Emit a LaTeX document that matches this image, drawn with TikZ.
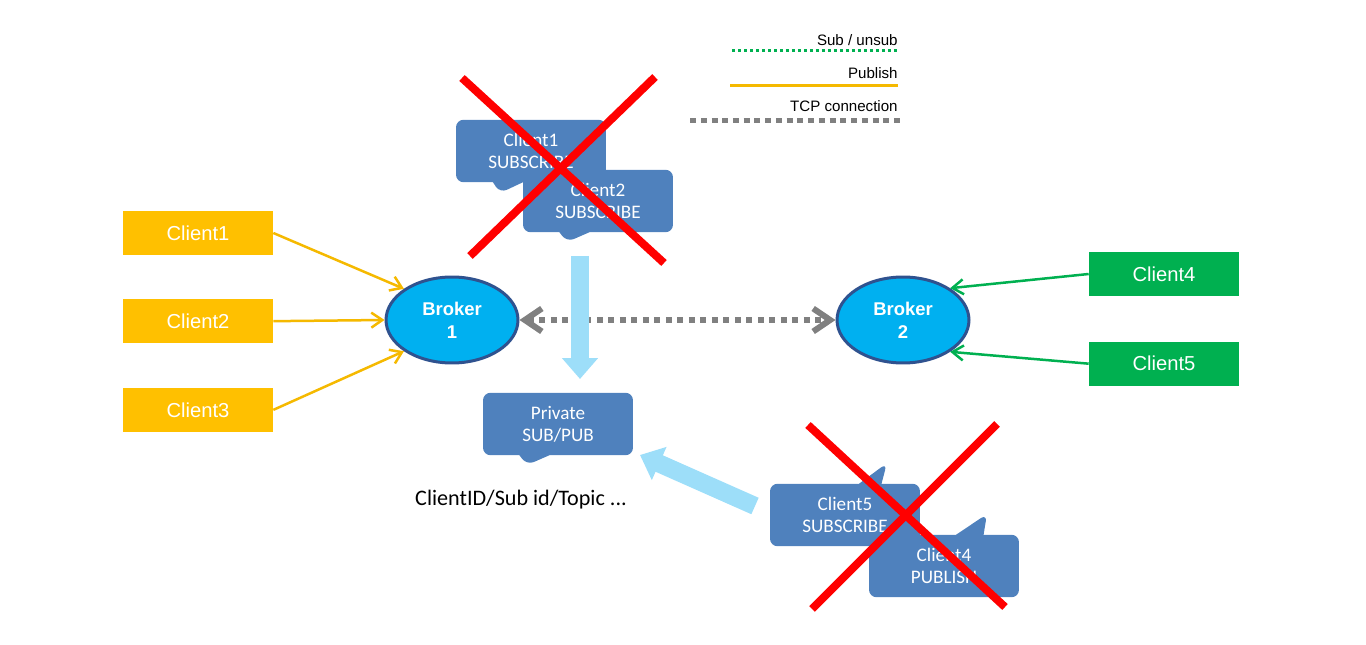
\documentclass[tikz,border=0pt]{standalone}
\usepackage{fontspec}
\setmainfont{Liberation Sans}
\newfontfamily\calibri{Carlito}
\usepackage{tikz}
\usetikzlibrary{shapes.geometric,shapes.callouts,positioning,arrows.meta}
\definecolor{pubyellow}{RGB}{255,192,0}
\definecolor{publine}{RGB}{245,185,0}
\definecolor{subgreen}{RGB}{0,176,80}
\definecolor{brokerblue}{RGB}{0,176,240}
\definecolor{brokeredge}{RGB}{47,82,143}
\definecolor{calloutblue}{RGB}{79,129,189}
\definecolor{tcpgray}{RGB}{128,128,128}
\definecolor{flowblue}{RGB}{157,222,249}

\begin{document}
\begin{tikzpicture}[x=0.02cm, y=-0.02cm,
  client/.style={rectangle, fill=#1, text=white, minimum width=3cm, minimum height=0.88cm, font=\fontsize{11.5}{13}\selectfont},
  broker/.style={ellipse, fill=brokerblue, draw=brokeredge, line width=0.06cm, text=white, minimum width=2.64cm, minimum height=1.72cm, align=center, font=\fontsize{10.5}{13}\selectfont\bfseries, inner sep=0pt},
  bubble/.style={rectangle callout, fill=calloutblue, text=white, rounded corners=0.15cm, minimum width=3cm, minimum height=1.25cm, align=center, callout pointer width=0.6cm, font=\calibri\fontsize{10.9}{12.5}\selectfont},
  legendtext/.style={anchor=east, inner sep=0pt, font=\fontsize{8.6}{10}\selectfont},
  pubarrow/.style={publine, line width=0.05cm, -{Straight Barb[length=0.22cm, width=0.3cm]}},
  subarrow/.style={subgreen, line width=0.05cm, -{Straight Barb[length=0.22cm, width=0.3cm]}},
  flow/.style={flowblue, line width=0.36cm, -{Triangle[length=0.42cm, width=0.7cm]}},
  cross/.style={red, line width=0.16cm}]
\useasboundingbox (0,0) rectangle (1366,645);

% Legend

\node [legendtext] (sublabel) at (898,40) {Sub / unsub};
\coordinate (subleft) at (732,51);
\coordinate (subright) at (898,51);
\draw[subgreen, line width=0.06cm, dash pattern=on 0.06cm off 0.06cm] (subleft) -- (subright);

\node [legendtext] (publabel) at (898,73) {Publish};
\coordinate (publeft) at (730,86);
\coordinate (pubright) at (898,86);
\draw[publine, line width=0.06cm] (publeft) -- (pubright);

\node [legendtext] (tcplabel) at (898,106) {TCP connection};
\coordinate (tcpleft) at (690,121);
\coordinate (tcpright) at (900,121);
\draw[tcpgray, line width=0.1cm, dash pattern=on 0.12cm off 0.095cm] (tcpleft) -- (tcpright);

% Clients and brokers

\node [client=pubyellow] (client1) at (198,233) {Client1};
\node [client=pubyellow, below=0.87cm of client1] (client2) {Client2};
\node [client=pubyellow, below=0.88cm of client2] (client3) {Client3};

\node [client=subgreen] (client4) at (1164,274) {Client4};
\node [client=subgreen, below=0.9cm of client4] (client5) {Client5};

\node [broker] (broker1) at (452,320) {Broker\\1};
\node [broker] (broker2) at (903,320) {Broker\\2};

\draw[pubarrow] (client1.east) -- (broker1.147);
\draw[pubarrow] (client2.east) -- (broker1.west);
\draw[pubarrow] (client3.east) -- (broker1.213);

\draw[subarrow] (client4.west) -- (broker2.34);
\draw[subarrow] (client5.west) -- (broker2.326);

\draw[tcpgray, line width=0.12cm, dash pattern=on 0.12cm off 0.11cm, {Straight Barb[length=0.34cm, width=0.46cm]}-{Straight Barb[length=0.34cm, width=0.46cm]}] (broker1.east) -- (broker2.west);

% Messages

\coordinate (tip1) at (500,193);
\coordinate (tip2) at (567,242);
\coordinate (tipprivate) at (527,465);
\coordinate (tip5) at (887,463);
\coordinate (tip4) at (987,514);

\node [bubble, callout absolute pointer={(tip1)}] (sub1) at (531,151) {Client1\\SUBSCRIBE};
\node [bubble, callout absolute pointer={(tip2)}] (sub2) at (598,201) {Client2\\SUBSCRIBE};

\node [bubble, callout absolute pointer={(tipprivate)}] (private) at (558,424) {Private\\SUB/PUB};
\node [below=0.56cm of private, font=\calibri\fontsize{12.6}{14}\selectfont, xshift=-0.74cm] (session) {ClientID/Sub id/Topic ...};

\node [bubble, callout absolute pointer={(tip5)}, callout pointer width=0.45cm] (sub5) at (845,515) {Client5\\SUBSCRIBE};
\node [bubble, callout absolute pointer={(tip4)}, callout pointer width=0.55cm] (pub4) at (944,566) {Client4\\PUBLISH};

\coordinate (downtail) at (580,256);
\coordinate (downhead) at (580,379);
\draw[flow] (downtail) -- (downhead);

\coordinate (backtail) at (755,506);
\coordinate (backhead) at (640,455);
\draw[flow] (backtail) -- (backhead);

% Rejected

\draw[cross] (462,78) -- (664,263);
\draw[cross] (655,77) -- (470,256);
\draw[cross] (808,425) -- (1005,607);
\draw[cross] (997,424) -- (812,609);
\end{tikzpicture}
\end{document}
